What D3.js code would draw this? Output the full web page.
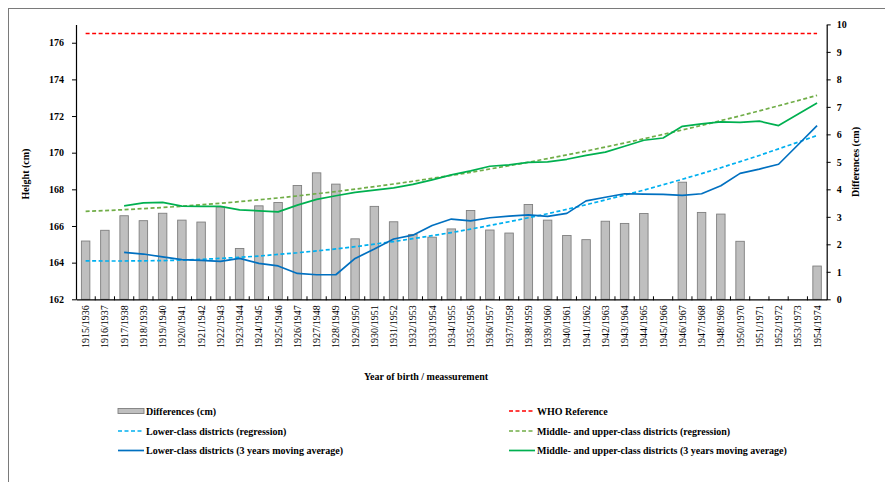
<!DOCTYPE html>
<html><head><meta charset="utf-8">
<script src="https://cdn.jsdelivr.net/npm/d3@7"></script>
<style>
body{margin:0;background:#fff}
svg{display:block}
text{font-family:"Liberation Serif","Times New Roman",serif;fill:#000}
</style>
</head><body>
<svg id="c" width="885" height="482"></svg>
<script>
const categories = ["1915/1936","1916/1937","1917/1938","1918/1939","1919/1940","1920/1941","1921/1942","1922/1943","1923/1944","1924/1945","1925/1946","1926/1947","1927/1948","1928/1949","1929/1950","1930/1951","1931/1952","1932/1953","1933/1954","1934/1955","1935/1956","1936/1957","1937/1958","1938/1959","1939/1960","1940/1961","1941/1962","1942/1963","1943/1964","1944/1965","1945/1966","1946/1967","1947/1968","1948/1969","1950/1970","1951/1971","1952/1972","1953/1973","1954/1974"];

const differences = [2.12,2.51,3.04,2.86,3.13,2.88,2.81,3.36,1.85,3.40,3.52,4.14,4.60,4.19,2.20,3.38,2.82,2.36,2.26,2.56,3.23,2.52,2.41,3.45,2.88,2.32,2.17,2.84,2.76,3.12,null,4.26,3.16,3.10,2.11,null,null,null,1.21];

const whoReference = 176.5;

const lowerRegression = [164.10,164.09,164.09,164.10,164.11,164.14,164.18,164.23,164.29,164.36,164.45,164.54,164.64,164.75,164.87,165.01,165.15,165.31,165.47,165.64,165.83,166.03,166.23,166.45,166.67,166.91,167.16,167.42,167.69,167.96,168.25,168.55,168.86,169.18,169.51,169.85,170.21,170.57,170.94];

const middleRegression = [166.80,166.84,166.89,166.95,167.01,167.08,167.16,167.24,167.33,167.43,167.53,167.64,167.76,167.88,168.01,168.15,168.29,168.44,168.60,168.76,168.93,169.11,169.29,169.48,169.68,169.88,170.09,170.31,170.53,170.76,171.00,171.24,171.49,171.75,172.01,172.28,172.56,172.84,173.13];

const lowerMovingAvg = [null,null,164.56,164.47,164.31,164.16,164.12,164.07,164.23,163.96,163.82,163.41,163.34,163.34,164.23,164.74,165.29,165.50,166.03,166.38,166.28,166.45,166.54,166.61,166.52,166.69,167.37,167.57,167.76,167.74,167.72,167.67,167.76,168.20,168.87,169.10,169.37,170.42,171.48];

const middleMovingAvg = [null,null,167.10,167.26,167.29,167.08,167.07,167.07,166.88,166.83,166.77,167.14,167.45,167.65,167.83,167.96,168.08,168.27,168.52,168.79,169.01,169.26,169.34,169.47,169.50,169.64,169.85,170.03,170.35,170.68,170.80,171.44,171.57,171.68,171.65,171.72,171.48,172.10,172.71];

const heightTicks = [162,164,166,168,170,172,174,176];
const diffTicks = [0,1,2,3,4,5,6,7,8,9,10];

const legendItems = [
  {label:"Differences (cm)", type:"bar", col:0, row:0},
  {label:"WHO Reference", type:"line", color:"#ff0000", dash:"4,2.5", col:1, row:0},
  {label:"Lower-class districts (regression)", type:"line", color:"#00b0f0", dash:"4,2.5", col:0, row:1},
  {label:"Middle- and upper-class districts (regression)", type:"line", color:"#70ad47", dash:"4,2.5", col:1, row:1},
  {label:"Lower-class districts (3 years moving average)", type:"line", color:"#0070c0", dash:null, col:0, row:2},
  {label:"Middle- and upper-class districts (3 years moving average)", type:"line", color:"#00b050", dash:null, col:1, row:2}
];

const svg = d3.select("#c");
const L = 76, R = 826.7, T = 24.4, B = 299.3;

// frame
svg.append("rect").attr("x",8.5).attr("y",8.5).attr("width",1000).attr("height",1000)
  .attr("fill","none").attr("stroke","#7a7a7a").attr("stroke-width",1);

const x = d3.scaleBand().domain(categories).range([L,R]).paddingInner(0.56).paddingOuter(0.28);
const cx = c => x(c) + x.bandwidth()/2;
const yL = d3.scaleLinear().domain([162,177]).range([B,T]);
const yR = d3.scaleLinear().domain([0,10]).range([B,T]);

// bars
svg.append("g").selectAll("rect")
  .data(categories.map((c,i)=>({c, v:differences[i]})).filter(d=>d.v!=null))
  .join("rect")
  .attr("x",d=>x(d.c)).attr("width",x.bandwidth())
  .attr("y",d=>yR(d.v)).attr("height",d=>yR(0)-yR(d.v))
  .attr("fill","#bfbfbf").attr("stroke","#7f7f7f").attr("stroke-width",0.9);

// lines
const line = d3.line().defined(d=>d.v!=null).x(d=>cx(d.c)).y(d=>yL(d.v));
const toPts = arr => categories.map((c,i)=>({c, v:arr[i]}));

svg.append("line")
  .attr("x1",cx(categories[0])).attr("x2",cx(categories[categories.length-1]))
  .attr("y1",yL(whoReference)).attr("y2",yL(whoReference))
  .attr("stroke","#ff0000").attr("stroke-width",1.6).attr("stroke-dasharray","4,2.5");

const series = [
  {data:lowerRegression, color:"#00b0f0", dash:"4,2.5"},
  {data:middleRegression, color:"#70ad47", dash:"4,2.5"},
  {data:lowerMovingAvg, color:"#0070c0", dash:null},
  {data:middleMovingAvg, color:"#00b050", dash:null}
];
series.forEach(s=>{
  svg.append("path").attr("d",line(toPts(s.data)))
    .attr("fill","none").attr("stroke",s.color).attr("stroke-width",1.7)
    .attr("stroke-dasharray",s.dash).attr("stroke-linejoin","round");
});

// left axis
const gL = svg.append("g").attr("transform",`translate(${L},0)`);
gL.call(d3.axisLeft(yL).tickValues(d3.range(1621,1771,2).map(v=>v/10)).tickSize(2).tickSizeOuter(0).tickFormat(""));
gL.call(d3.axisLeft(yL).tickValues(heightTicks).tickSize(4).tickSizeOuter(0).tickPadding(8).tickFormat(d3.format("d")));
gL.selectAll("text").attr("font-size",10).attr("font-weight","bold").attr("font-family","Liberation Serif, serif");
gL.selectAll("path.domain").attr("stroke","#000").attr("stroke-width",1.2);

// right axis
const gR = svg.append("g").attr("transform",`translate(${R},0)`);
gR.call(d3.axisRight(yR).tickValues(d3.range(1,100,2).map(v=>v/10)).tickSize(2).tickSizeOuter(0).tickFormat(""));
gR.call(d3.axisRight(yR).tickValues(diffTicks).tickSize(4).tickSizeOuter(0).tickPadding(6).tickFormat(d3.format("d")));
gR.selectAll("text").attr("font-size",10).attr("font-weight","bold").attr("font-family","Liberation Serif, serif");
gR.selectAll("path.domain").attr("stroke","#000").attr("stroke-width",1.2);

// bottom axis
const gB = svg.append("g").attr("transform",`translate(0,${B})`);
gB.call(d3.axisBottom(x).tickSize(0).tickPadding(6).tickSizeOuter(0));
gB.selectAll("path.domain").attr("stroke","#000").attr("stroke-width",1.2);
gB.selectAll(".tick text")
  .attr("font-size",10).attr("font-family","Liberation Serif, serif")
  .attr("text-anchor","end").attr("transform","rotate(-90)")
  .attr("x",-6).attr("y",0).attr("dy","0.35em");
// boundary ticks
gB.append("g").selectAll("line").data(categories.slice(1))
  .join("line")
  .attr("x1",c=>x(c)-x.step()*x.paddingInner()/2).attr("x2",c=>x(c)-x.step()*x.paddingInner()/2)
  .attr("y1",-3).attr("y2",1).attr("stroke","#000").attr("stroke-width",1);

// axis titles
svg.append("text").attr("transform","translate(28.5,174) rotate(-90)")
  .attr("text-anchor","middle").attr("font-size",10).attr("font-weight","bold").text("Height (cm)");
svg.append("text").attr("transform","translate(859,162) rotate(-90)")
  .attr("text-anchor","middle").attr("font-size",10).attr("font-weight","bold").text("Differences (cm)");
svg.append("text").attr("x",426).attr("y",379.5)
  .attr("text-anchor","middle").attr("font-size",10).attr("font-weight","bold").text("Year of birth / meassurement");

// legend
const colX = [118, 509], rowY = [411, 431, 450.5];
const lg = svg.append("g");
legendItems.forEach(it=>{
  const x0 = colX[it.col], y0 = rowY[it.row];
  if(it.type==="bar"){
    lg.append("rect").attr("x",x0).attr("y",y0-2.5).attr("width",26).attr("height",5)
      .attr("fill","#bfbfbf").attr("stroke","#7f7f7f").attr("stroke-width",0.9);
  } else {
    lg.append("line").attr("x1",x0).attr("x2",x0+26).attr("y1",y0).attr("y2",y0)
      .attr("stroke",it.color).attr("stroke-width",1.7).attr("stroke-dasharray",it.dash);
  }
  lg.append("text").attr("x",x0+28).attr("y",y0+3.5).attr("font-size",10).attr("font-weight","bold").text(it.label);
});
</script>
</body></html>
